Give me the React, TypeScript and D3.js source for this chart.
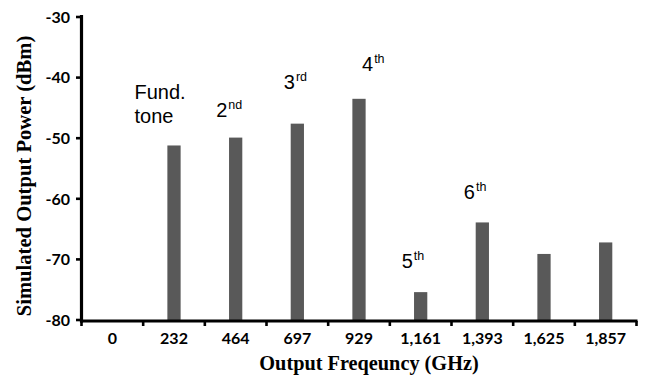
import React from "react";
import { scaleBand, scaleLinear } from "d3";

// output frequency (GHz) categories and simulated power (dBm)
const freqs = ["0", "232", "464", "697", "929", "1,161", "1,393", "1,625", "1,857"];
const power: (number | null)[] = [null, -51.2, -49.9, -47.6, -43.5, -75.4, -63.9, -69.1, -67.2];
const yTicks = [-30, -40, -50, -60, -70, -80];

// harmonic labels, anchored in data units (category + dBm)
const noteFreq = ["232", "464", "697", "929", "1,161", "1,393"];
const noteText = ["Fund.", "2", "3", "4", "5", "6"];
const noteSup = ["", "nd", "rd", "th", "th", "th"];
const noteDb = [-43.5, -46.45, -41.9, -38.9, -71.5, -60.1];
const noteDx = [-39.5, -19.5, -13.5, 3, -19, -18.5];

const W = 647;
const H = 375;
const sans = "'Liberation Sans', Arial, sans-serif";
const tickFont = "Lato, 'Open Sans', sans-serif";
const serif = "'Liberation Serif', 'Times New Roman', serif";

export default function App() {
  const x = scaleBand<string>().domain(freqs).range([81.5, 636.5]).padding(0);
  const y = scaleLinear().domain([-80, -30]).range([320, 17]);
  const step = x.bandwidth();
  const barW = step * 0.215;
  const base = y(-80);

  return (
    <svg width={W} height={H} style={{ position: "absolute", left: 0, top: 0, background: "#fff" }}>
      {/* bars */}
      {freqs.map((f, i) => {
        const v = power[i];
        if (v == null) return null;
        const cx = (x(f) as number) + step / 2;
        return <rect key={f} x={cx - barW / 2} y={y(v)} width={barW} height={base - y(v)} fill="#595959" />;
      })}

      {/* y axis */}
      <line x1={81.5} x2={81.5} y1={y(-30) - 2} y2={base + 2.5} stroke="#000" strokeWidth={3.2} />
      {yTicks.map((t) => (
        <g key={t}>
          <line x1={76} x2={81.5} y1={y(t)} y2={y(t)} stroke="#000" strokeWidth={2.6} />
          <text x={70} y={y(t)} dy="0.36em" textAnchor="end" fontFamily={tickFont} fontWeight={700} fontSize={16}>
            {t}
          </text>
        </g>
      ))}

      {/* x axis */}
      <line x1={80} x2={637.5} y1={base + 1} y2={base + 1} stroke="#000" strokeWidth={3.2} />
      {freqs.map((f) => (
        <line key={"t" + f} x1={x(f) as number} x2={x(f) as number} y1={base + 1} y2={base + 6} stroke="#000" strokeWidth={2.6} />
      ))}
      <line x1={636.5} x2={636.5} y1={base + 1} y2={base + 6} stroke="#000" strokeWidth={2.6} />
      {freqs.map((f) => (
        <text key={"l" + f} x={(x(f) as number) + step / 2} y={343.5} textAnchor="middle" fontFamily={tickFont} fontWeight={700} fontSize={16}>
          {f}
        </text>
      ))}

      {/* harmonic labels */}
      {noteFreq.map((f, i) => {
        const cx = (x(f) as number) + step / 2 + noteDx[i];
        const by = y(noteDb[i]);
        return (
          <text key={"n" + i} x={cx} y={by} fontFamily={sans} fontSize={20} fill="#000">
            {noteText[i]}
            {noteSup[i] && (
              <tspan dx={1} dy={-8} fontSize={12.5}>
                {noteSup[i]}
              </tspan>
            )}
            {i === 0 && (
              <tspan x={cx} y={by + 24.3}>
                tone
              </tspan>
            )}
          </text>
        );
      })}

      {/* axis titles */}
      <text x={369} y={369.5} textAnchor="middle" fontFamily={serif} fontWeight={700} fontSize={20.3}>
        Output Freqeuncy (GHz)
      </text>
      <text transform="translate(31,176) rotate(-90)" textAnchor="middle" fontFamily={serif} fontWeight={700} fontSize={20.6}>
        Simulated Output Power (dBm)
      </text>
    </svg>
  );
}
